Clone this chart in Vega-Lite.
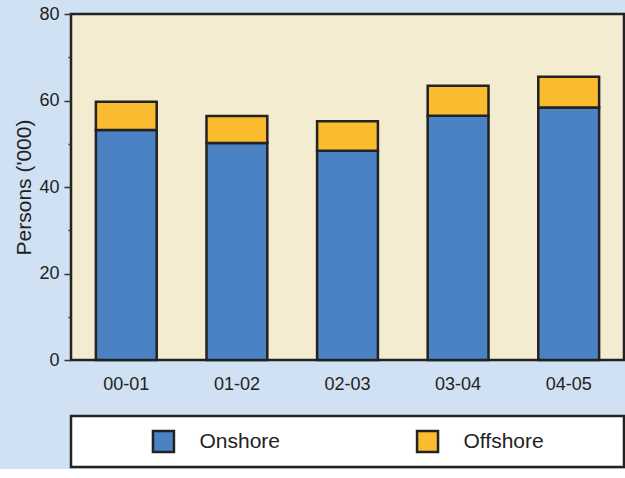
{
  "$schema": "https://vega.github.io/schema/vega-lite/v6.json",
  "background": "#cfe1f2",
  "padding": {"left": 12, "top": 3, "right": 2, "bottom": 0},
  "autosize": {"type": "pad"},
  "config": {"font": "Liberation Sans"},
  "bounds": "flush",
  "spacing": 56,
  "vconcat": [
    {
      "width": 553,
      "height": 346,
      "view": {"fill": "#f3ecd0", "stroke": "#222222", "strokeWidth": 2.5},
      "data": {
        "values": [
          {"year": "00-01", "series": "Onshore", "ord": 0, "persons": 53.2},
          {"year": "00-01", "series": "Offshore", "ord": 1, "persons": 6.5},
          {"year": "01-02", "series": "Onshore", "ord": 0, "persons": 50.2},
          {"year": "01-02", "series": "Offshore", "ord": 1, "persons": 6.2},
          {"year": "02-03", "series": "Onshore", "ord": 0, "persons": 48.4},
          {"year": "02-03", "series": "Offshore", "ord": 1, "persons": 6.8},
          {"year": "03-04", "series": "Onshore", "ord": 0, "persons": 56.5},
          {"year": "03-04", "series": "Offshore", "ord": 1, "persons": 6.9},
          {"year": "04-05", "series": "Onshore", "ord": 0, "persons": 58.4},
          {"year": "04-05", "series": "Offshore", "ord": 1, "persons": 7.1}
        ]
      },
      "mark": {"type": "bar", "stroke": "#222222", "strokeWidth": 2.5},
      "encoding": {
        "x": {
          "field": "year",
          "type": "nominal",
          "sort": null,
          "scale": {"paddingInner": 0.45, "paddingOuter": 0.225},
          "axis": {
            "title": null,
            "labelAngle": 0,
            "labelFontSize": 18,
            "labelColor": "#222222",
            "labelPadding": 15,
            "ticks": false,
            "domain": false
          }
        },
        "y": {
          "field": "persons",
          "type": "quantitative",
          "stack": "zero",
          "scale": {"domain": [0, 80], "nice": false},
          "axis": {
            "title": "Persons ('000)",
            "titleFontSize": 21,
            "titleFontWeight": "normal",
            "titleColor": "#222222",
            "titlePadding": 4,
            "values": [0, 10, 20, 30, 40, 50, 60, 70, 80],
            "labelExpr": "datum.value % 20 === 0 ? datum.label : ''",
            "labelFontSize": 18,
            "labelColor": "#222222",
            "labelPadding": 5,
            "grid": false,
            "domain": false,
            "tickColor": "#333333",
            "tickWidth": 1.5,
            "tickSize": {"condition": {"test": "datum.value % 20 === 0", "value": 7}, "value": 3}
          }
        },
        "color": {
          "field": "series",
          "type": "nominal",
          "scale": {"domain": ["Onshore", "Offshore"], "range": ["#4a82c3", "#fbbb2e"]},
          "legend": null
        },
        "order": {"field": "ord", "type": "quantitative"}
      }
    },
    {
      "width": 553,
      "height": 51,
      "view": {"fill": "white", "stroke": "#222222", "strokeWidth": 2.5},
      "data": {"values": [{"series": "Onshore"}, {"series": "Offshore"}]},
      "layer": [
        {
          "mark": {"type": "square", "size": 441, "filled": true, "opacity": 1, "stroke": "#222222", "strokeWidth": 2.5},
          "encoding": {
            "x": {"field": "series", "type": "nominal", "sort": null, "scale": {"type": "point", "padding": 0.547, "align": 0.32}, "axis": null},
            "color": {"field": "series", "type": "nominal", "legend": null}
          }
        },
        {
          "mark": {"type": "text", "align": "left", "dx": 36, "fontSize": 21, "color": "#222222"},
          "encoding": {
            "x": {"field": "series", "type": "nominal", "sort": null, "axis": null},
            "text": {"field": "series"}
          }
        }
      ]
    }
  ]
}
